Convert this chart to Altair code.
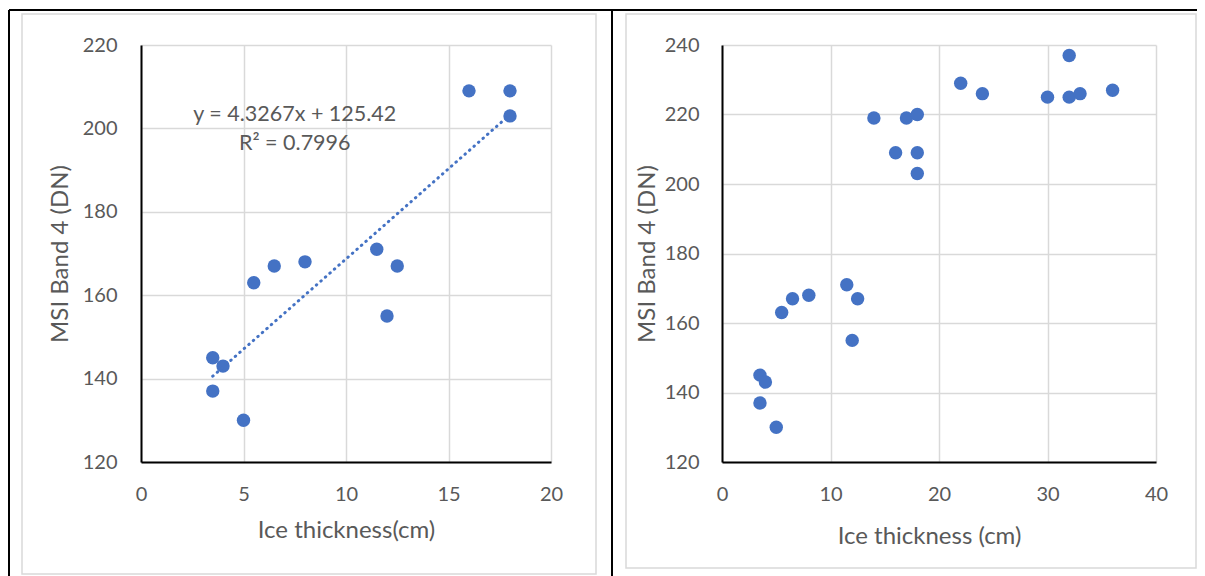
import altair as alt
import pandas as pd

# ---------------- data ----------------
left_thickness = [3.5, 3.5, 4, 5, 5.5, 6.5, 8, 11.5, 12, 12.5, 16, 18, 18]
left_band4 = [145, 137, 143, 130, 163, 167, 168, 171, 155, 167, 209, 209, 203]

right_thickness = [3.5, 3.5, 4, 5, 5.5, 6.5, 8, 11.5, 12, 12.5,
                   14, 16, 17, 18, 18, 18, 22, 24, 30, 32, 32, 33, 36]
right_band4 = [145, 137, 143, 130, 163, 167, 168, 171, 155, 167,
               219, 209, 219, 220, 209, 203, 229, 226, 225, 237, 225, 226, 227]

left_x_ticks = [0, 5, 10, 15, 20]
left_y_ticks = [120, 140, 160, 180, 200, 220]
right_x_ticks = [0, 10, 20, 30, 40]
right_y_ticks = [120, 140, 160, 180, 200, 220, 240]

trend_labels = ["y = 4.3267x + 125.42", "R\u00b2 = 0.7996"]
trend_label_x = [7.5, 7.5]
trend_label_y = [203.2, 196.3]

# ---------------- styling ----------------
FONT = "Lato"
BLUE = "#4472C4"
TEXT = "#595959"
GRID = "#d9d9d9"

left_df = pd.DataFrame({"x": left_thickness, "y": left_band4})
right_df = pd.DataFrame({"x": right_thickness, "y": right_band4})
label_df = pd.DataFrame({"x": trend_label_x, "y": trend_label_y, "t": trend_labels})
one = pd.DataFrame({"d": [0]})


def vrule(x, y1, y2, color="black", w=2):
    return alt.Chart(one).mark_rule(color=color, strokeWidth=w).encode(
        x=alt.value(x), y=alt.value(y1), y2=alt.value(y2))


def hrule(x1, x2, y, color="black", w=2):
    return alt.Chart(one).mark_rule(color=color, strokeWidth=w).encode(
        x=alt.value(x1), x2=alt.value(x2), y=alt.value(y))


def frame(x1, x2, y1, y2):
    return alt.Chart(one).mark_rect(fillOpacity=0, stroke=GRID, strokeWidth=1.5).encode(
        x=alt.value(x1), x2=alt.value(x2), y=alt.value(y1), y2=alt.value(y2))


# ---------------- left panel ----------------
lx = alt.X("x:Q", scale=alt.Scale(domain=[0, 20], nice=False, zero=False),
           axis=alt.Axis(values=left_x_ticks, title="Ice thickness(cm)",
                         titleY=68, titleBaseline="middle", labelPadding=22))
ly = alt.Y("y:Q", scale=alt.Scale(domain=[120, 220], nice=False, zero=False),
           axis=alt.Axis(values=left_y_ticks, title="MSI Band 4 (DN)",
                         titleX=-81, titleBaseline="middle", labelPadding=24))

left_points = alt.Chart(left_df).mark_circle(size=180, color=BLUE, opacity=1).encode(x=lx, y=ly)
left_trend = alt.Chart(left_df).transform_regression("x", "y").mark_line(
    color=BLUE, strokeWidth=3, strokeDash=[0.5, 5.5], strokeCap="round").encode(x="x:Q", y="y:Q")
left_text = alt.Chart(label_df).mark_text(font=FONT, fontSize=21.5, color=TEXT).encode(
    x="x:Q", y="y:Q", text="t:N")

left = alt.layer(
    frame(-119, 455, -31, 529),
    vrule(-132, -35, 531),
    hrule(-132, 471, -35),
    left_points, left_trend, left_text,
).properties(width=410, height=417)

# ---------------- right panel ----------------
rx = alt.X("x:Q", scale=alt.Scale(domain=[0, 40], nice=False, zero=False),
           axis=alt.Axis(values=right_x_ticks, title="Ice thickness (cm)",
                         titleY=74, titleX=207, titleBaseline="middle", labelPadding=22))
ry = alt.Y("y:Q", scale=alt.Scale(domain=[120, 240], nice=False, zero=False),
           axis=alt.Axis(values=right_y_ticks, title="MSI Band 4 (DN)",
                         titleX=-75, titleBaseline="middle", labelPadding=23))

right_points = alt.Chart(right_df).mark_circle(size=180, color=BLUE, opacity=1).encode(x=rx, y=ry)

right = alt.layer(
    frame(-96, 474, -31, 523),
    vrule(-110, -35, 531),
    hrule(-110, 483, -35),
    right_points,
).properties(width=434, height=417)

chart = alt.hconcat(left, right, spacing=171, bounds="flush").properties(
    padding={"left": -1, "top": 0, "right": -10, "bottom": -2}
).configure(background="white").configure_view(
    stroke="transparent"
).configure_axis(
    labelFont=FONT, labelFontSize=20, labelColor=TEXT, labelFlush=False,
    titleFont=FONT, titleFontSize=24, titleColor=TEXT, titleFontWeight="normal",
    domainColor="black", domainWidth=2,
    gridColor=GRID, gridWidth=1.5,
    ticks=False, tickSize=0,
)

chart.save("out.html", embed_options={"renderer": "svg", "actions": False})
